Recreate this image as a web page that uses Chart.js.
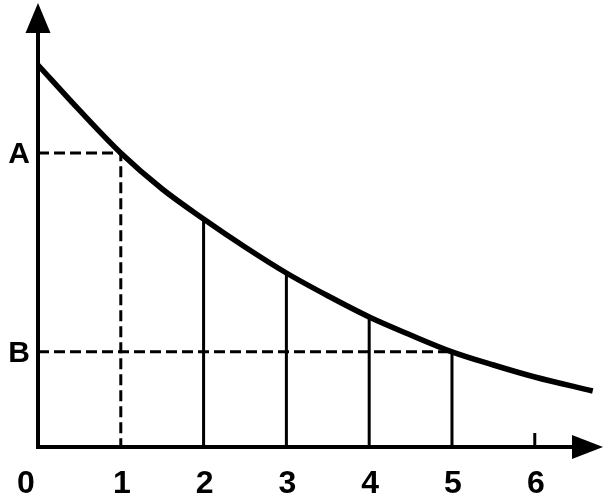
<!DOCTYPE html>
<html><head><meta charset="utf-8">
<script src="https://cdn.jsdelivr.net/npm/chart.js@4.4.1/dist/chart.umd.min.js"></script>
<style>html,body{margin:0;padding:0;background:#fff}#wrap{width:607px;height:497px;position:relative}</style>
</head><body><div id="wrap"><canvas id="c"></canvas></div>
<script>
// ---- data ----
const curveX = [0, 0.5, 1, 1.5, 2, 2.5, 3, 3.5, 4, 4.5, 5, 5.5, 6, 6.7];
const curveY = [9.55, 8.42, 7.35, 6.45, 5.7, 5.0, 4.35, 3.78, 3.25, 2.8, 2.38, 2.05, 1.75, 1.4];
const tickValues = [0, 1, 2, 3, 4, 5, 6];
const tickLabels = ['0', '1', '2', '3', '4', '5', '6'];
const levelLabels = ['A', 'B'];
const levelAtX = [1, 5];          // dashed levels meet the curve here
const dropX = [2, 3, 4, 5];       // solid verticals under the curve
const smallTickX = [6];           // short tick mark on the x axis
const xMax = 6.824, yMax = 11.1;

const curveAt = x => curveY[curveX.indexOf(x)];
const levelY = levelAtX.map(curveAt);

const curveData = curveX.map((x, i) => ({x, y: curveY[i]}));
const dashA = [{x: 0, y: levelY[0]}, {x: levelAtX[0], y: levelY[0]}, {x: levelAtX[0], y: 0}];
const dashB = [{x: 0, y: levelY[1]}, {x: levelAtX[1], y: levelY[1]}];
const drops = dropX.flatMap(x => [{x, y: 0}, {x, y: curveAt(x)}, {x, y: null}]);

const axesPlugin = {
  id: 'axesPlugin',
  beforeDraw(chart) {
    const c = chart.ctx;
    c.save(); c.fillStyle = '#fff'; c.fillRect(0, 0, chart.width, chart.height); c.restore();
  },
  afterDatasetsDraw(chart) {
    const c = chart.ctx, xs = chart.scales.x, ys = chart.scales.y;
    const x0 = xs.getPixelForValue(0), y0 = ys.getPixelForValue(0);
    const xEnd = xs.getPixelForValue(xMax), yEnd = ys.getPixelForValue(yMax);
    c.save();
    c.strokeStyle = '#000'; c.fillStyle = '#000'; c.lineWidth = 4; c.lineCap = 'butt';
    // y axis
    c.beginPath(); c.moveTo(x0, y0 + 2); c.lineTo(x0, yEnd + 25); c.stroke();
    c.beginPath(); c.moveTo(x0, yEnd); c.lineTo(x0 - 12.5, yEnd + 30); c.lineTo(x0 + 12.5, yEnd + 30); c.closePath(); c.fill();
    // x axis
    c.beginPath(); c.moveTo(x0 - 2, y0); c.lineTo(xEnd - 25, y0); c.stroke();
    c.beginPath(); c.moveTo(xEnd, y0); c.lineTo(xEnd - 31, y0 - 12); c.lineTo(xEnd - 31, y0 + 12); c.closePath(); c.fill();
    // small tick
    c.lineWidth = 3;
    smallTickX.forEach(v => {
      const p = xs.getPixelForValue(v);
      c.beginPath(); c.moveTo(p, y0); c.lineTo(p, y0 - 14); c.stroke();
    });
    // x tick labels
    c.font = 'bold 32px "Liberation Sans", Arial, sans-serif';
    c.textAlign = 'center'; c.textBaseline = 'alphabetic';
    tickValues.forEach((v, i) => {
      const p = xs.getPixelForValue(v);
      c.fillText(tickLabels[i], v === 0 ? p - 12 : p + 1, y0 + 46);
    });
    // level labels
    c.font = 'bold 30px "Liberation Sans", Arial, sans-serif';
    levelLabels.forEach((t, i) => {
      c.fillText(t, x0 - 19, ys.getPixelForValue(levelY[i]) + 10);
    });
    c.restore();
  }
};

new Chart(document.getElementById('c'), {
  type: 'scatter',
  data: {
    datasets: [
      {label: 'curve', data: curveData, showLine: true, borderColor: '#000', borderWidth: 5.5,
       pointRadius: 0, cubicInterpolationMode: 'monotone', fill: false},
      {label: 'A', data: dashA, showLine: true, borderColor: '#000', borderWidth: 3,
       borderDash: [11, 5], pointRadius: 0, tension: 0},
      {label: 'B', data: dashB, showLine: true, borderColor: '#000', borderWidth: 3,
       borderDash: [11, 5], pointRadius: 0, tension: 0},
      {label: 'drops', data: drops, showLine: true, spanGaps: false, borderColor: '#000', borderWidth: 3,
       pointRadius: 0, tension: 0}
    ]
  },
  options: {
    responsive: true, maintainAspectRatio: false, animation: false,
    layout: {padding: {left: 38, top: 3, right: 4, bottom: 50}},
    plugins: {legend: {display: false}, tooltip: {enabled: false}},
    scales: {
      x: {type: 'linear', display: false, min: 0, max: xMax},
      y: {type: 'linear', display: false, min: 0, max: yMax}
    }
  },
  plugins: [axesPlugin]
});
</script>
</body></html>
